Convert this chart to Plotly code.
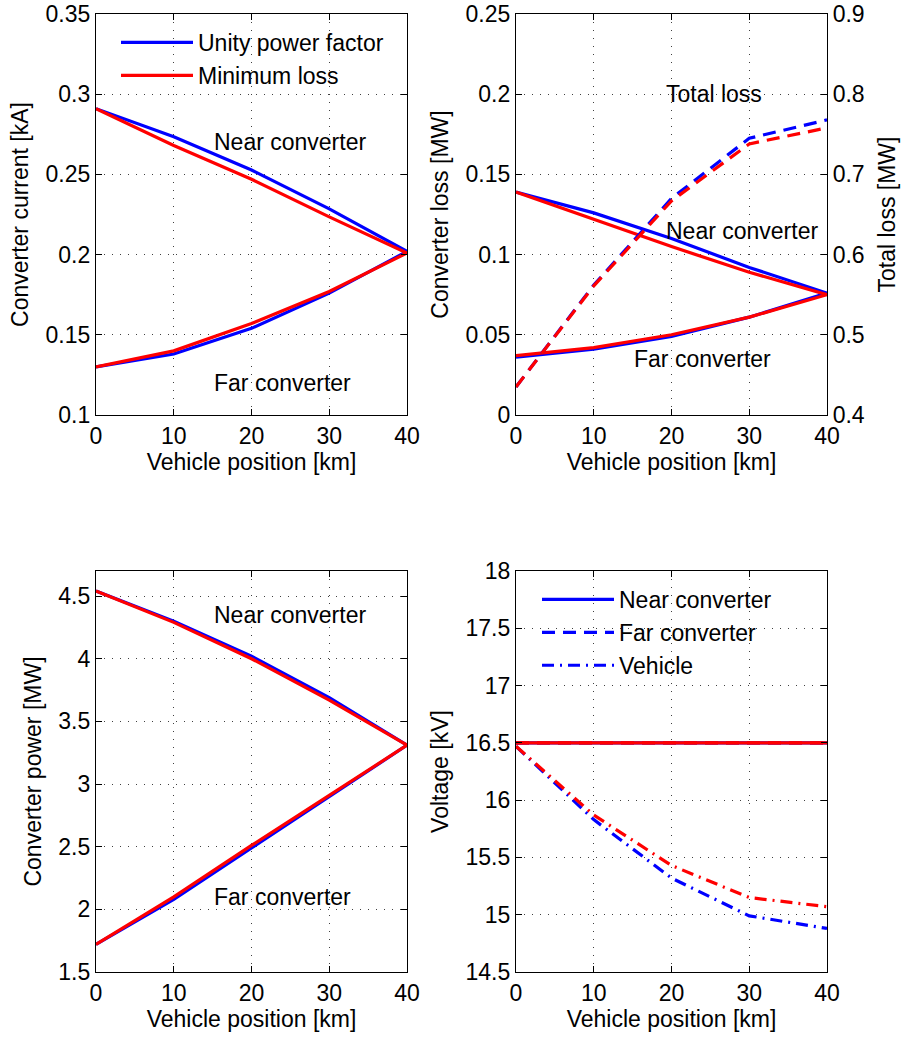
import plotly.graph_objects as go

# ---------------- data ----------------
pos_km = [0, 10, 20, 30, 40]

# Converter current [kA]
cur_near_upf = [0.291, 0.2735, 0.2527, 0.2285, 0.202]
cur_far_upf = [0.130, 0.138, 0.154, 0.176, 0.202]
cur_near_ml = [0.291, 0.268, 0.247, 0.2235, 0.201]
cur_far_ml = [0.130, 0.140, 0.157, 0.177, 0.201]

# Converter loss [MW]
loss_near_upf = [0.139, 0.126, 0.110, 0.092, 0.076]
loss_far_upf = [0.036, 0.041, 0.049, 0.061, 0.076]
loss_near_ml = [0.139, 0.122, 0.105, 0.089, 0.075]
loss_far_ml = [0.037, 0.042, 0.050, 0.061, 0.075]
# Total loss [MW] (right axis)
total_upf = [0.435, 0.562, 0.670, 0.745, 0.768]
total_ml = [0.435, 0.561, 0.667, 0.738, 0.758]

# Converter power [MW]
pow_near_upf = [4.54, 4.30, 4.02, 3.69, 3.31]
pow_far_upf = [1.72, 2.08, 2.49, 2.90, 3.31]
pow_near_ml = [4.54, 4.29, 4.00, 3.67, 3.31]
pow_far_ml = [1.72, 2.10, 2.51, 2.91, 3.31]

# Voltage [kV]
v_near_upf = [16.5, 16.5, 16.5, 16.5, 16.5]
v_far_upf = [16.5, 16.5, 16.5, 16.5, 16.5]
v_veh_upf = [16.47, 15.83, 15.32, 14.99, 14.88]
v_near_ml = [16.5, 16.5, 16.5, 16.5, 16.5]
v_far_ml = [16.5, 16.5, 16.5, 16.5, 16.5]
v_veh_ml = [16.47, 15.87, 15.43, 15.15, 15.07]

x_ticks = [0, 10, 20, 30, 40]

# ---------------- style ----------------
FONT = "Liberation Sans, Arial, Helvetica, sans-serif"
FS = 23
BLUE = "#0000FF"
RED = "#FF0000"
LW = 3.2
DASH = "13px,8px"
DASHDOT = "12px,6px,2px,6px"

W, H = 902, 1039


def px_x(p):
    return p / W


def px_y(p):
    return 1 - p / H


fig = go.Figure()


def add(x, y, color, dash, xa, ya, name=None, legend=None, rank=1000):
    fig.add_trace(go.Scatter(
        x=x, y=y, mode="lines", xaxis=xa, yaxis=ya,
        line=dict(color=color, width=LW, dash=dash),
        name=name if name else "",
        showlegend=name is not None,
        legend=legend if legend else "legend",
        legendrank=rank,
        hoverinfo="skip",
    ))


# Top-left: current
add(pos_km, cur_near_upf, BLUE, "solid", "x", "y", "Unity power factor", "legend", 1)
add(pos_km, cur_far_upf, BLUE, "solid", "x", "y")
add(pos_km, cur_near_ml, RED, "solid", "x", "y", "Minimum loss", "legend", 2)
add(pos_km, cur_far_ml, RED, "solid", "x", "y")

# Top-right: losses
add(pos_km, loss_near_upf, BLUE, "solid", "x2", "y2")
add(pos_km, loss_far_upf, BLUE, "solid", "x2", "y2")
add(pos_km, loss_near_ml, RED, "solid", "x2", "y2")
add(pos_km, loss_far_ml, RED, "solid", "x2", "y2")
add(pos_km, total_upf, BLUE, DASH, "x2", "y3")
add(pos_km, total_ml, RED, DASH, "x2", "y3")

# Bottom-left: power
add(pos_km, pow_near_upf, BLUE, "solid", "x3", "y4")
add(pos_km, pow_far_upf, BLUE, "solid", "x3", "y4")
add(pos_km, pow_near_ml, RED, "solid", "x3", "y4")
add(pos_km, pow_far_ml, RED, "solid", "x3", "y4")

# Bottom-right: voltage
add(pos_km, v_far_upf, BLUE, DASH, "x4", "y5", "Far converter", "legend2", 2)
add(pos_km, v_veh_upf, BLUE, DASHDOT, "x4", "y5", "Vehicle", "legend2", 3)
add(pos_km, v_near_upf, BLUE, "solid", "x4", "y5", "Near converter", "legend2", 1)
add(pos_km, v_far_ml, RED, DASH, "x4", "y5")
add(pos_km, v_veh_ml, RED, DASHDOT, "x4", "y5")
add(pos_km, v_near_ml, RED, "solid", "x4", "y5")

# ---------------- axes ----------------
dom_x_left = [px_x(96), px_x(407)]
dom_x_right = [px_x(516), px_x(827)]
dom_y_top = [px_y(415), px_y(14)]
dom_y_bot = [px_y(972), px_y(571)]

common = dict(
    showline=True, linecolor="black", linewidth=1.2, mirror="ticks",
    ticks="inside", ticklen=6, tickwidth=1.2, tickcolor="black",
    showgrid=True, gridcolor="rgba(0,0,0,0.75)", gridwidth=1.3, griddash="1px,7px",
    zeroline=False, automargin=False,
    tickfont=dict(family=FONT, size=FS, color="black"),
    title_font=dict(family=FONT, size=FS, color="black"),
)


def xax(domain, anchor):
    d = dict(common)
    d.update(domain=domain, anchor=anchor, range=[0, 40], tickvals=x_ticks,
             title=dict(text="Vehicle position [km]", standoff=3))
    return d


def yax(domain, anchor, rng, tickvals, ticktext, title, mirror="ticks"):
    d = dict(common)
    d.update(domain=domain, anchor=anchor, range=rng, tickvals=tickvals,
             ticktext=ticktext, title=dict(text=title, standoff=10), mirror=mirror)
    return d


yt1 = [0.1, 0.15, 0.2, 0.25, 0.3, 0.35]
yt1_txt = ["0.1", "0.15", "0.2", "0.25", "0.3", "0.35"]
yt2 = [0, 0.05, 0.1, 0.15, 0.2, 0.25]
yt2_txt = ["0", "0.05", "0.1", "0.15", "0.2", "0.25"]
yt3 = [0.4, 0.5, 0.6, 0.7, 0.8, 0.9]
yt3_txt = ["0.4", "0.5", "0.6", "0.7", "0.8", "0.9"]
yt4 = [1.5, 2, 2.5, 3, 3.5, 4, 4.5]
yt4_txt = ["1.5", "2", "2.5", "3", "3.5", "4", "4.5"]
yt5 = [14.5, 15, 15.5, 16, 16.5, 17, 17.5, 18]
yt5_txt = ["14.5", "15", "15.5", "16", "16.5", "17", "17.5", "18"]

y3 = dict(common)
y3.update(domain=dom_y_top, anchor="x2", overlaying="y2", side="right",
          range=[0.4, 0.9], tickvals=yt3, ticktext=yt3_txt, showgrid=False,
          mirror=False, title=dict(text="Total loss [MW]", standoff=15))

fig.update_layout(
    template="none",
    width=W, height=H, autosize=False,
    margin=dict(l=0, r=0, t=0, b=0, pad=0),
    paper_bgcolor="white", plot_bgcolor="white",
    font=dict(family=FONT, size=FS, color="black"),
    xaxis=xax(dom_x_left, "y"),
    yaxis=yax(dom_y_top, "x", [0.1, 0.35], yt1, yt1_txt, "Converter current [kA]"),
    xaxis2=xax(dom_x_right, "y2"),
    yaxis2=yax(dom_y_top, "x2", [0, 0.25], yt2, yt2_txt, "Converter loss [MW]", mirror=True),
    yaxis3=y3,
    xaxis3=xax(dom_x_left, "y4"),
    yaxis4=yax(dom_y_bot, "x3", [1.5, 4.7], yt4, yt4_txt, "Converter power [MW]"),
    xaxis4=xax(dom_x_right, "y5"),
    yaxis5=yax(dom_y_bot, "x4", [14.5, 18], yt5, yt5_txt, "Voltage [kV]"),
    legend=dict(
        x=px_x(116), y=px_y(21), xanchor="left", yanchor="top",
        bgcolor="rgba(0,0,0,0)", borderwidth=0, itemwidth=72,
        font=dict(family=FONT, size=FS, color="black"), tracegroupgap=0,
        traceorder="normal",
    ),
    legend2=dict(
        x=px_x(537), y=px_y(578), xanchor="left", yanchor="top",
        bgcolor="rgba(0,0,0,0)", borderwidth=0, itemwidth=72,
        font=dict(family=FONT, size=FS, color="black"), tracegroupgap=0,
        traceorder="normal",
    ),
)

# ---------------- text labels ----------------
labels = [
    ("x", "y", 25, 0.27, "Near converter"),
    ("x", "y", 24, 0.12, "Far converter"),
    ("x2", "y2", 25.5, 0.2, "Total loss"),
    ("x2", "y2", 29.1, 0.1147, "Near converter"),
    ("x2", "y2", 24, 0.035, "Far converter"),
    ("x3", "y4", 25, 4.35, "Near converter"),
    ("x3", "y4", 24, 2.1, "Far converter"),
]
for xr, yr, xv, yv, t in labels:
    fig.add_annotation(x=xv, y=yv, xref=xr, yref=yr, text=t, showarrow=False,
                       font=dict(family=FONT, size=FS, color="black"),
                       xanchor="center", yanchor="middle")

fig.write_html(
    "out.html",
    config={"displayModeBar": False},
    post_script="document.body.style.margin='0';document.body.style.padding='0';"
                "document.documentElement.style.overflow='hidden';",
)
